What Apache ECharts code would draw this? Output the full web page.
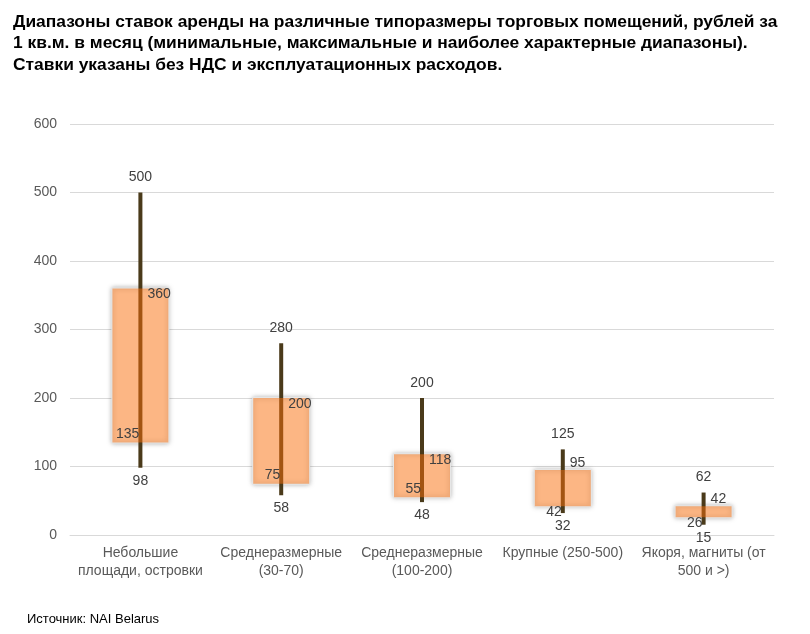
<!DOCTYPE html>
<html><head><meta charset="utf-8">
<script src="https://cdn.jsdelivr.net/npm/echarts@6/dist/echarts.min.js"></script>
<style>html,body{margin:0;padding:0;background:#fff}#c{width:810px;height:634px}</style>
</head><body><div id="c"></div>
<script>
const categories = ['Небольшие\nплощади, островки','Среднеразмерные\n(30-70)','Среднеразмерные\n(100-200)','Крупные (250-500)','Якоря, магниты (от\n500 и >)'];
const minValues = [98, 58, 48, 32, 15];
const maxValues = [500, 280, 200, 125, 62];
const typicalLow = [135, 75, 55, 42, 26];
const typicalHigh = [360, 200, 118, 95, 42];
const yTicks = {min: 0, max: 600, interval: 100};

const data = categories.map((c, i) => [i, minValues[i], maxValues[i], typicalLow[i], typicalHigh[i]]);
const FONT = '14px "Liberation Sans", Arial, sans-serif';
const LBL = '#404040';

function renderItem(params, api) {
  const i = api.value(0);
  const lo = api.coord([i, api.value(1)]);
  const hi = api.coord([i, api.value(2)]);
  const bLo = api.coord([i, api.value(3)]);
  const bHi = api.coord([i, api.value(4)]);
  const x = lo[0];
  const bw = 56;
  const boxH = bLo[1] - bHi[1];
  const small = boxH < 40;
  const topY = small ? bHi[1] - 7 : bHi[1] + 6;
  const botY = small ? bLo[1] + 6 : bLo[1] - 8;
  const rectShape = {x: x - bw / 2, y: bHi[1], width: bw, height: boxH};
  return {
    type: 'group',
    children: [
      {type: 'rect', shape: rectShape,
        style: {fill: '#fff', stroke: '#e6e6e6', lineWidth: 2, shadowBlur: 5, shadowColor: 'rgba(0,0,0,0.25)'}},
      {type: 'line', shape: {x1: x, y1: hi[1], x2: x, y2: lo[1]}, style: {stroke: '#4a3a1a', lineWidth: 4}},
      {type: 'rect', shape: rectShape, style: {fill: 'rgba(250,110,10,0.5)'}},
      {type: 'text', style: {text: String(api.value(2)), x: x, y: hi[1] - 15, align: 'center', verticalAlign: 'middle', fill: LBL, font: FONT}},
      {type: 'text', style: {text: String(api.value(1)), x: x, y: lo[1] + 13, align: 'center', verticalAlign: 'middle', fill: LBL, font: FONT}},
      {type: 'text', style: {text: String(api.value(4)), x: x + 7, y: topY, align: 'left', verticalAlign: 'middle', fill: LBL, font: FONT}},
      {type: 'text', style: {text: String(api.value(3)), x: x - 1, y: botY, align: 'right', verticalAlign: 'middle', fill: LBL, font: FONT}}
    ]
  };
}

const chart = echarts.init(document.getElementById('c'));
chart.setOption({
  animation: false,
  title: [{
    text: 'Диапазоны ставок аренды на различные типоразмеры торговых помещений, рублей за\n1 кв.м. в месяц (минимальные, максимальные и наиболее характерные диапазоны).\nСтавки указаны без НДС и эксплуатационных расходов.',
    left: 8, top: 6,
    textStyle: {fontFamily: '"Liberation Sans", Arial, sans-serif', fontWeight: 'bold', fontSize: 17.4, color: '#000', lineHeight: 21.7}
  }, {
    text: 'Источник: NAI Belarus', left: 22, top: 608,
    textStyle: {fontFamily: '"Liberation Sans", Arial, sans-serif', fontWeight: 'normal', fontSize: 13, color: '#000'}
  }],
  grid: {left: 70, right: 36, top: 124, bottom: 99, containLabel: false},
  xAxis: {
    type: 'category', data: categories,
    axisLine: {lineStyle: {color: '#d9d9d9'}}, axisTick: {show: false},
    axisLabel: {color: '#595959', fontSize: 14, fontFamily: '"Liberation Sans", Arial, sans-serif', lineHeight: 18, margin: 9, interval: 0}
  },
  yAxis: {
    type: 'value', min: yTicks.min, max: yTicks.max, interval: yTicks.interval,
    axisLine: {show: false}, axisTick: {show: false},
    splitLine: {lineStyle: {color: '#d9d9d9'}},
    axisLabel: {color: '#595959', fontSize: 14, fontFamily: '"Liberation Sans", Arial, sans-serif', margin: 13}
  },
  series: [{type: 'custom', renderItem: renderItem, data: data, encode: {x: 0, y: [1, 2, 3, 4]}, clip: false}]
});
</script></body></html>
